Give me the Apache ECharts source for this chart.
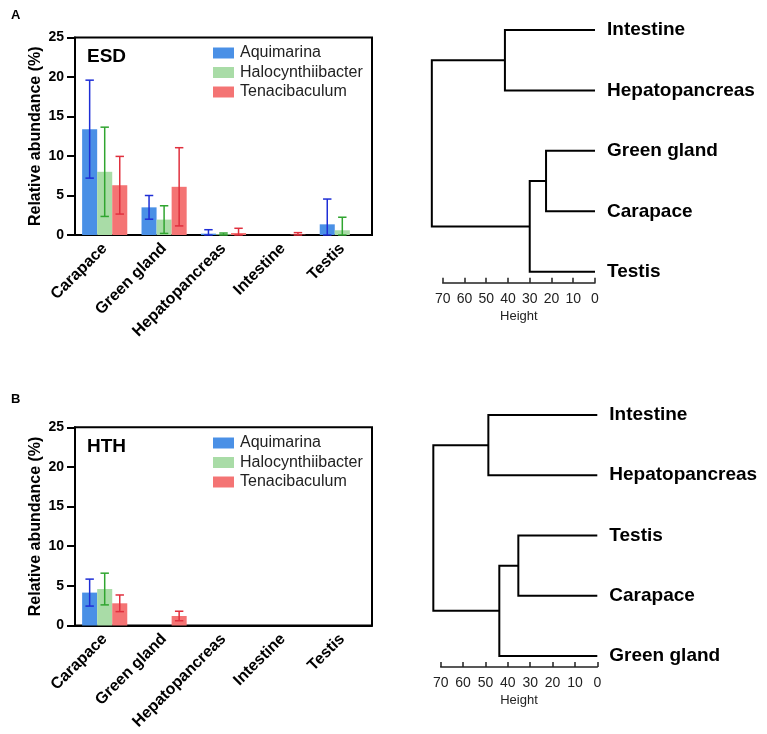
<!DOCTYPE html>
<html>
<head>
<meta charset="utf-8">
<script src="https://cdn.jsdelivr.net/npm/echarts@6/dist/echarts.min.js"></script>
<style>
html,body{margin:0;padding:0;background:#fff;}
#c{width:767px;height:734px;}
</style>
</head>
<body>
<div id="c"></div>
<script>
// ---------- data ----------
const categories = ['Carapace', 'Green gland', 'Hepatopancreas', 'Intestine', 'Testis'];
const seriesNames = ['Aquimarina', 'Halocynthiibacter', 'Tenacibaculum'];
const yTicks = [0, 5, 10, 15, 20, 25];

// ESD panel (mean, SD)
const esdAquimarina = [13.4, 3.5, 0.17, 0, 1.35];
const esdAquimarinaSD = [6.2, 1.5, 0.5, 0, 3.2];
const esdHalocynthiibacter = [8.0, 1.95, 0.1, 0, 0.6];
const esdHalocynthiibacterSD = [5.65, 1.75, 0.15, 0, 1.65];
const esdTenacibaculum = [6.3, 6.1, 0.25, 0.05, 0];
const esdTenacibaculumSD = [3.65, 4.95, 0.6, 0.25, 0];

// HTH panel (mean, SD)
const hthAquimarina = [4.15, 0, 0, 0, 0];
const hthAquimarinaSD = [1.7, 0, 0, 0, 0];
const hthHalocynthiibacter = [4.6, 0, 0, 0, 0];
const hthHalocynthiibacterSD = [2.0, 0, 0, 0, 0];
const hthTenacibaculum = [2.8, 1.2, 0, 0, 0];
const hthTenacibaculumSD = [1.05, 0.6, 0, 0, 0];

// Dendrograms: leaf order (top to bottom) and merges [left, right, height]
// (a number refers to an earlier merge by index)
const esdLeaves = ['Intestine', 'Hepatopancreas', 'Green gland', 'Carapace', 'Testis'];
const esdMerges = [['Green gland', 'Carapace', 22.5], [0, 'Testis', 30], ['Intestine', 'Hepatopancreas', 41.4], [2, 1, 75]];
const hthLeaves = ['Intestine', 'Hepatopancreas', 'Testis', 'Carapace', 'Green gland'];
const hthMerges = [['Testis', 'Carapace', 35.3], [0, 'Green gland', 43.8], ['Intestine', 'Hepatopancreas', 48.7], [2, 1, 73.3]];
const heightTicks = [0, 10, 20, 30, 40, 50, 60, 70];

// ---------- styling ----------
const FONT = 'Liberation Sans, Arial, sans-serif';
const barColors = ['#4a90e6', '#a9dca7', '#f47474'];
const errColors = ['#1e2ed6', '#30a530', '#e0303e'];
const CAT_GAP = 0.24;

function dendroLinks(leaves, merges) {
  const nodes = [];
  function resolve(ref) {
    if (typeof ref === 'number') return nodes[ref];
    return { h: 0, y: leaves.indexOf(ref) };
  }
  const links = [];
  merges.forEach(m => {
    const a = resolve(m[0]), b = resolve(m[1]);
    nodes.push({ h: m[2], y: (a.y + b.y) / 2 });
    links.push([a.h, a.y, m[2], b.y, b.h]);
  });
  return links;
}

function errorRender(idx) {
  return function (params, api) {
    const cat = api.value(0), mean = api.value(1), sd = api.value(2);
    if (!sd) return null;
    const band = api.size([1, 0])[0];
    const bw = band * (1 - CAT_GAP) / 3;
    const c = api.coord([cat, mean]);
    const x = c[0] + (idx - 1) * bw;
    const top = api.coord([cat, mean + sd])[1];
    const bot = api.coord([cat, Math.max(0, mean - sd)])[1];
    const cap = bw * 0.28;
    const st = { stroke: errColors[idx], lineWidth: 1.5 };
    return {
      type: 'group',
      children: [
        { type: 'line', shape: { x1: x, y1: top, x2: x, y2: bot }, style: st },
        { type: 'line', shape: { x1: x - cap, y1: top, x2: x + cap, y2: top }, style: st },
        { type: 'line', shape: { x1: x - cap, y1: bot, x2: x + cap, y2: bot }, style: st }
      ]
    };
  };
}

function dendroRender(params, api) {
  const p1 = api.coord([api.value(0), api.value(1)]);
  const p2 = api.coord([api.value(2), api.value(1)]);
  const p3 = api.coord([api.value(2), api.value(3)]);
  const p4 = api.coord([api.value(4), api.value(3)]);
  return {
    type: 'polyline',
    shape: { points: [p1, p2, p3, p4] },
    style: { stroke: '#000', lineWidth: 2, fill: null }
  };
}

const panels = [
  { means: [esdAquimarina, esdHalocynthiibacter, esdTenacibaculum], sds: [esdAquimarinaSD, esdHalocynthiibacterSD, esdTenacibaculumSD] },
  { means: [hthAquimarina, hthHalocynthiibacter, hthTenacibaculum], sds: [hthAquimarinaSD, hthHalocynthiibacterSD, hthTenacibaculumSD] }
];

const grids = [
  { left: 75, right: 395, top: 37.5, bottom: 499, show: true, borderColor: '#000', borderWidth: 2 },
  { left: 75, right: 395, top: 427.3, bottom: 108.5, show: true, borderColor: '#000', borderWidth: 2 },
  { left: 442.7, right: 172, top: 30, bottom: 462.3 },
  { left: 440.7, right: 169.7, top: 415, bottom: 78 }
];

const xAxes = [], yAxes = [], series = [];
[0, 1].forEach(g => {
  xAxes.push({
    type: 'category', gridIndex: g, data: categories,
    axisLine: { lineStyle: { color: '#000', width: 2 } },
    axisTick: { alignWithLabel: true, length: 7, lineStyle: { color: '#000', width: 2 } },
    axisLabel: { rotate: 45, margin: 11, color: '#000', fontWeight: 'bold', fontSize: 16, fontFamily: FONT, interval: 0 }
  });
  yAxes.push({
    type: 'value', gridIndex: g, min: yTicks[0], max: yTicks[yTicks.length - 1], interval: yTicks[1] - yTicks[0],
    name: 'Relative abundance (%)', nameLocation: 'middle', nameGap: 31,
    nameTextStyle: { color: '#000', fontWeight: 'bold', fontSize: 16, fontFamily: FONT },
    axisLine: { show: true, lineStyle: { color: '#000', width: 2 } },
    axisTick: { show: true, length: 8, lineStyle: { color: '#000', width: 2 } },
    axisLabel: { color: '#000', fontWeight: 'bold', fontSize: 14, fontFamily: FONT, margin: 11 },
    splitLine: { show: false }
  });
  seriesNames.forEach((name, i) => {
    series.push({
      type: 'bar', name: name, xAxisIndex: g, yAxisIndex: g,
      data: panels[g].means[i], barGap: '0%', barCategoryGap: (CAT_GAP * 100) + '%',
      itemStyle: { color: barColors[i] }, silent: true
    });
  });
  seriesNames.forEach((name, i) => {
    series.push({
      type: 'custom', name: name + ' SD', xAxisIndex: g, yAxisIndex: g, z: 5,
      renderItem: errorRender(i),
      encode: { x: 0, y: 1 },
      data: categories.map((c, k) => [k, panels[g].means[i][k], panels[g].sds[i][k]])
    });
  });
});

const dendros = [
  { leaves: esdLeaves, merges: esdMerges, grid: 2 },
  { leaves: hthLeaves, merges: hthMerges, grid: 3 }
];
dendros.forEach(d => {
  xAxes.push({
    type: 'value', gridIndex: d.grid, inverse: true, min: heightTicks[0], max: heightTicks[heightTicks.length - 1],
    interval: heightTicks[1] - heightTicks[0], offset: 11, position: 'bottom',
    name: 'Height', nameLocation: 'middle', nameGap: 27,
    nameTextStyle: { color: '#222', fontSize: 13, fontFamily: FONT },
    axisLine: { onZero: false, lineStyle: { color: '#222', width: 1.5 } },
    axisTick: { inside: true, length: 5, lineStyle: { color: '#222', width: 1.5 } },
    axisLabel: { color: '#222', fontSize: 14, fontFamily: FONT, margin: 9 },
    splitLine: { show: false }
  });
  yAxes.push({
    type: 'value', gridIndex: d.grid, inverse: true, min: 0, max: d.leaves.length - 1, interval: 1,
    position: 'right',
    axisLine: { show: false, onZero: false }, axisTick: { show: false }, splitLine: { show: false },
    axisLabel: {
      formatter: v => d.leaves[v] || '', color: '#000', fontWeight: 'bold', fontSize: 19, fontFamily: FONT, margin: 12
    }
  });
  series.push({
    type: 'custom', name: 'dendro' + d.grid, xAxisIndex: d.grid, yAxisIndex: d.grid,
    renderItem: dendroRender, clip: false, silent: true,
    encode: { x: [0, 2, 4], y: [1, 3] },
    data: dendroLinks(d.leaves, d.merges)
  });
});

const legendBase = {
  data: seriesNames, orient: 'vertical', left: 208, icon: 'rect', itemWidth: 21, itemHeight: 11, itemGap: 3.5,
  textStyle: { color: '#222', fontSize: 16, fontFamily: FONT, padding: [0, 0, 0, 1] },
  selectedMode: false
};

const option = {
  animation: false,
  textStyle: { fontFamily: FONT },
  title: [
    { text: 'A', left: 6, top: 4, textStyle: { fontSize: 13, fontWeight: 'bold', color: '#000', fontFamily: FONT } },
    { text: 'B', left: 6, top: 388, textStyle: { fontSize: 13, fontWeight: 'bold', color: '#000', fontFamily: FONT } },
    { text: 'ESD', left: 82, top: 42, textStyle: { fontSize: 19, fontWeight: 'bold', color: '#000', fontFamily: FONT } },
    { text: 'HTH', left: 82, top: 432, textStyle: { fontSize: 19, fontWeight: 'bold', color: '#000', fontFamily: FONT } }
  ],
  legend: [
    Object.assign({}, legendBase, { top: 40 }),
    Object.assign({}, legendBase, { top: 430 })
  ],
  grid: grids,
  xAxis: xAxes,
  yAxis: yAxes,
  series: series
};

const chart = echarts.init(document.getElementById('c'), null, { renderer: 'canvas' });
chart.setOption(option);
</script>
</body>
</html>
